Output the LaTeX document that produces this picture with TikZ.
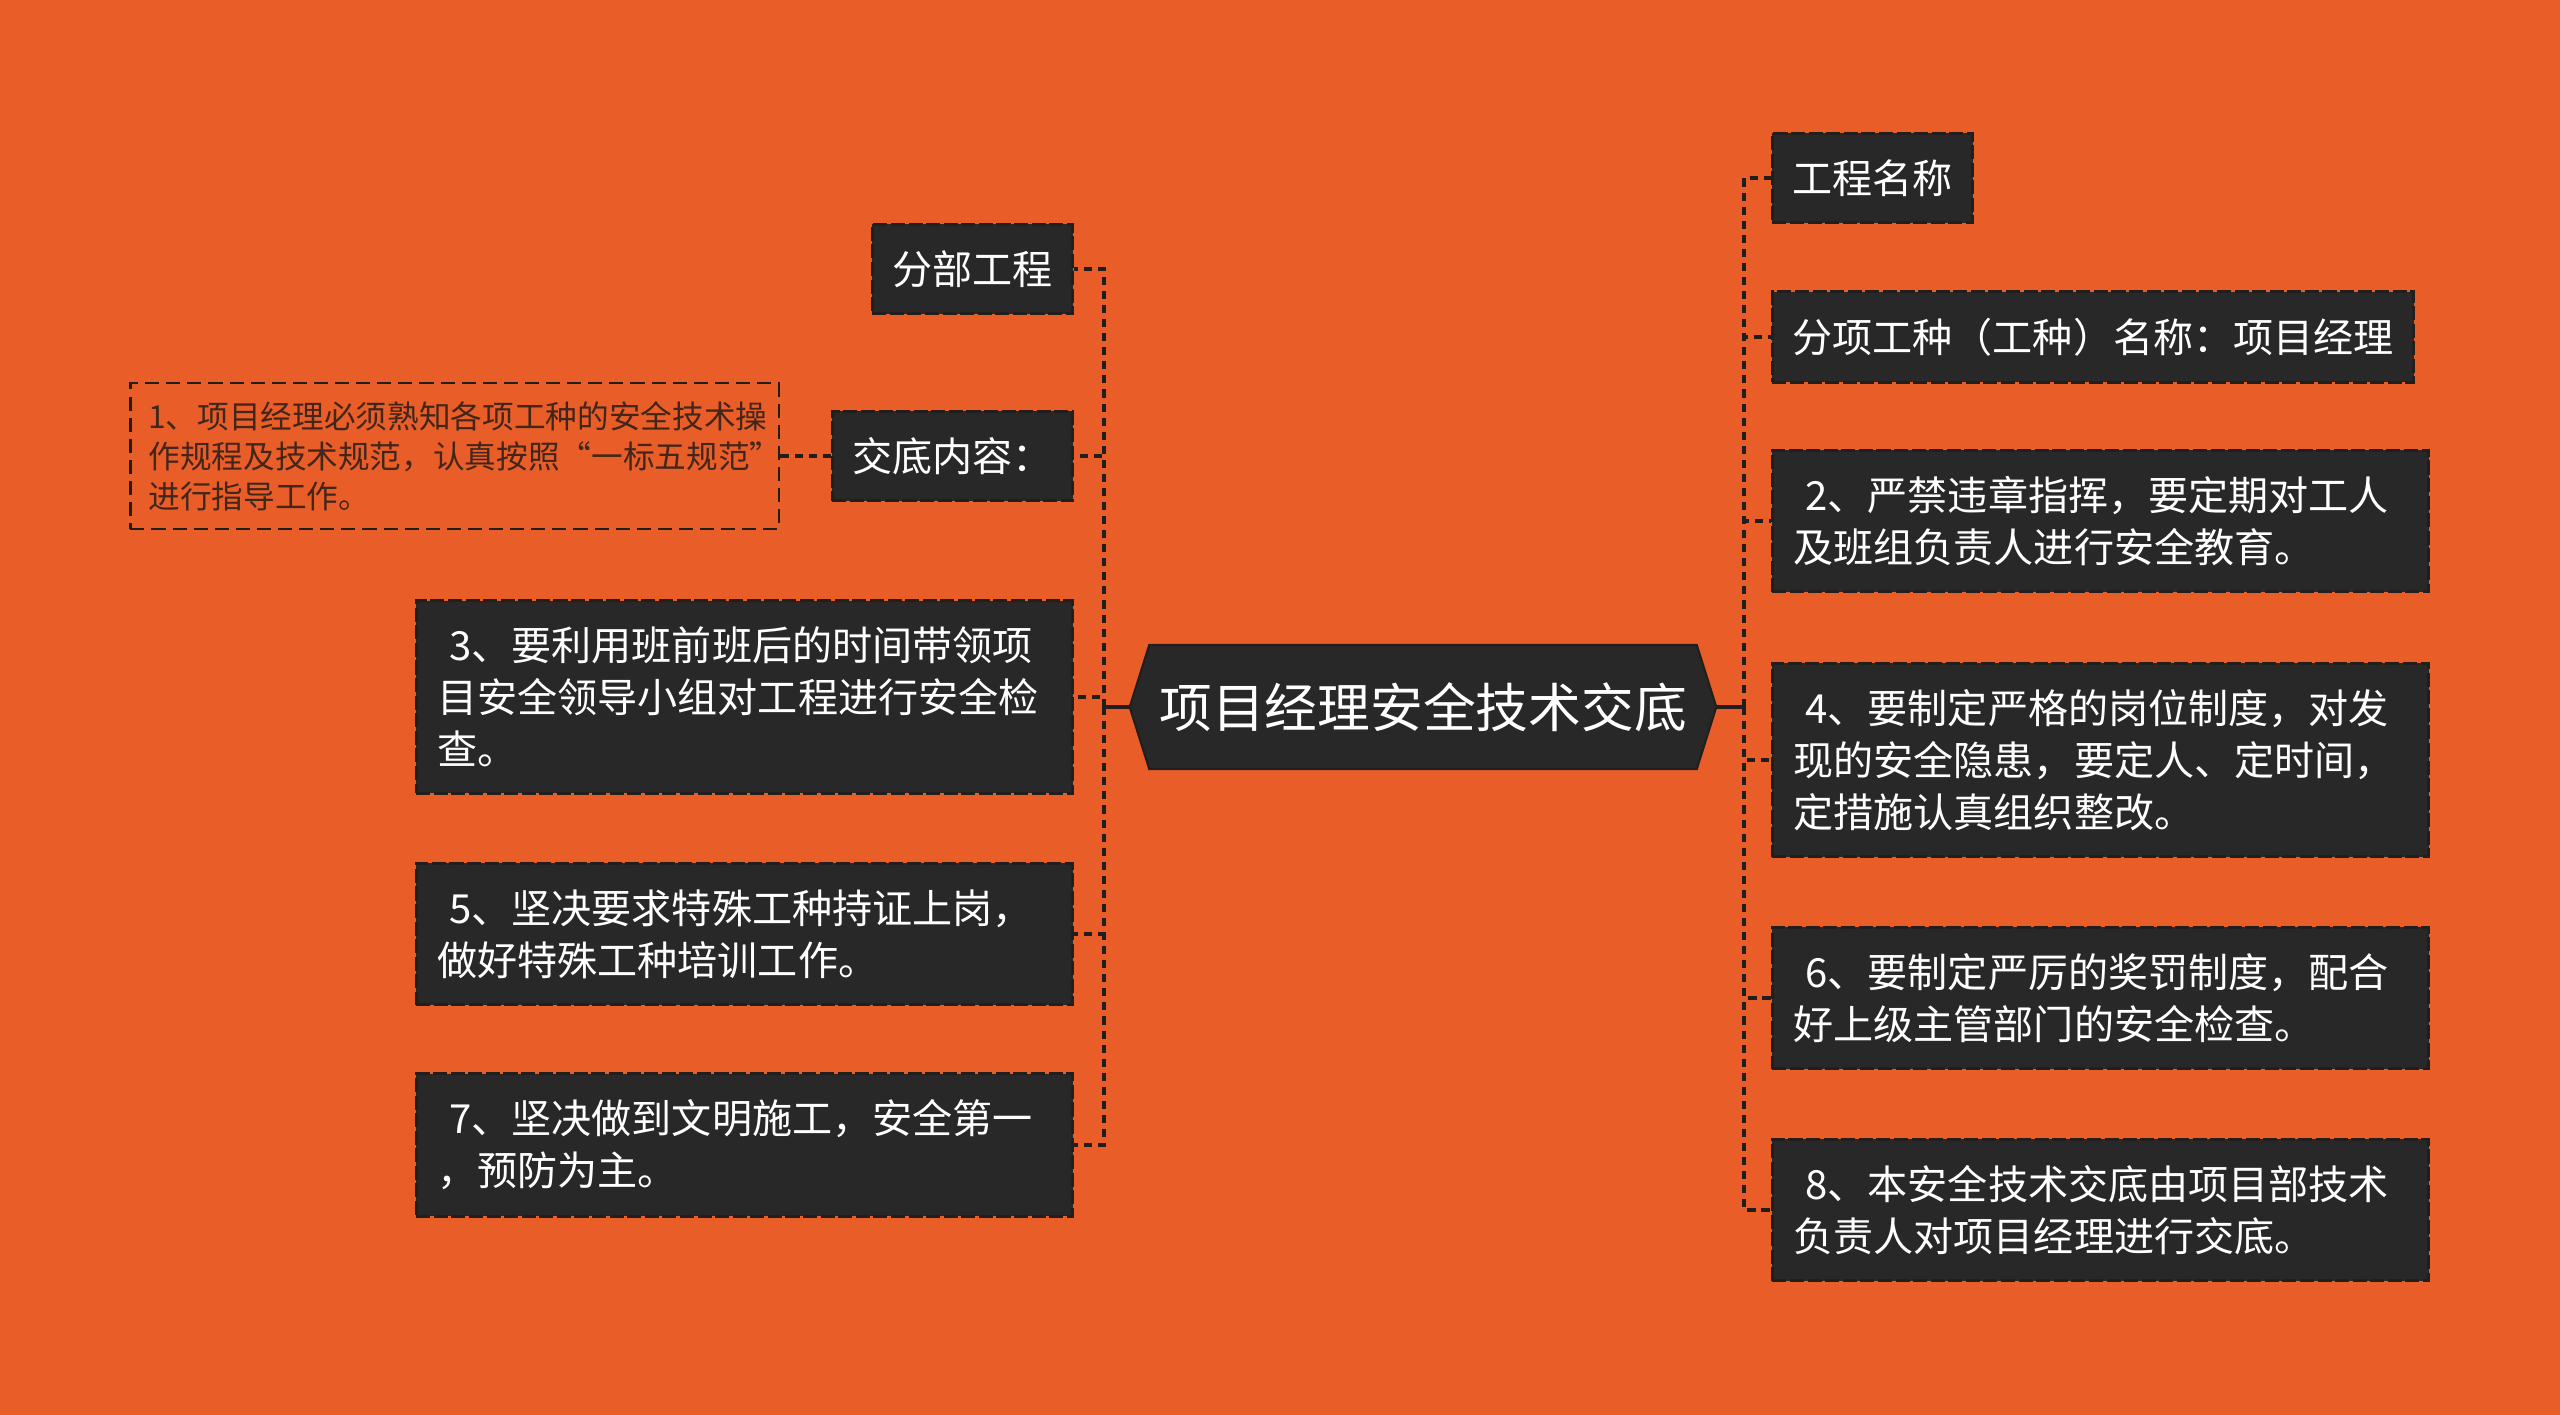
\documentclass[tikz,border=0pt]{standalone}
\usepackage{fontspec}
\setmainfont{Noto Sans CJK SC}
\usepackage{tikz}
\definecolor{bgorange}{RGB}{233, 93, 41}
\definecolor{boxgray}{RGB}{40, 40, 40}
\definecolor{lineblack}{RGB}{34, 30, 28}
\definecolor{notebrown}{RGB}{66, 38, 26}
\usetikzlibrary{shapes.symbols, positioning}

\begin{document}
\begin{tikzpicture}[
    x=0.01cm, y=-0.01cm,
    root/.style={signal, signal to=east and west, signal pointer angle=145, fill=boxgray, draw=lineblack, line width=0.6pt, minimum width=5.73cm, minimum height=1.24cm, inner xsep=0.1cm, text=white, font=\fontsize{15pt}{18pt}\selectfont},
    tag/.style={rectangle, fill=boxgray, draw=lineblack, dash pattern=on 4pt off 1pt, line width=0.8pt, inner xsep=0.2cm, inner ysep=0.26cm, text=white, font=\fontsize{11.4pt}{14.8pt}\selectfont},
    card/.style={tag, text width=6.14cm, inner xsep=0.21cm, align=left},
    note/.style={rectangle, draw=lineblack, dash pattern=on 4pt off 2pt, line width=0.7pt, text width=6.12cm, inner xsep=0.18cm, inner ysep=0.18cm, align=left, text=notebrown, font=\fontsize{9pt}{11.4pt}\selectfont},
    stub/.style={lineblack, line width=0.9pt},
    link/.style={lineblack, line width=0.9pt, dash pattern=on 2.3pt off 1.7pt}
]
    % background and page size
    \fill[bgorange] (0,0) rectangle (2560,1415);

    \node[root] (root) at (1423,707) {项目经理安全技术交底};
    \coordinate (lj) at (1104,707);
    \coordinate (rj) at (1744,707);

    % left side
    \node[tag, anchor=east] (fenbu) at (1074,269) {分部工程};
    \node[tag, anchor=east] (jiaodi) at (1074,456) {交底内容：};
    \node[note, anchor=east] (item1) at (780,456) {1、项目经理必须熟知各项工种的安全技术操\\作规程及技术规范，认真按照“一标五规范”\\进行指导工作。};
    \node[card, anchor=east] (item3) at (1074,697) {\hspace{0.12cm}3、要利用班前班后的时间带领项\\目安全领导小组对工程进行安全检\\查。};
    \node[card, anchor=east] (item5) at (1074,934) {\hspace{0.12cm}5、坚决要求特殊工种持证上岗，\\做好特殊工种培训工作。};
    \node[card, anchor=east] (item7) at (1074,1145) {\hspace{0.12cm}7、坚决做到文明施工，安全第一\\，预防为主。};

    % right side
    \node[tag, anchor=west] (gcmc) at (1771,178) {工程名称};
    \node[tag, anchor=west] (fxgz) at (1771,337) {分项工种（工种）名称：项目经理};
    \node[card, anchor=west] (item2) at (1771,521) {\hspace{0.12cm}2、严禁违章指挥，要定期对工人\\及班组负责人进行安全教育。};
    \node[card, anchor=west] (item4) at (1771,760) {\hspace{0.12cm}4、要制定严格的岗位制度，对发\\现的安全隐患，要定人、定时间，\\定措施认真组织整改。};
    \node[card, anchor=west] (item6) at (1771,998) {\hspace{0.12cm}6、要制定严厉的奖罚制度，配合\\好上级主管部门的安全检查。};
    \node[card, anchor=west] (item8) at (1771,1210) {\hspace{0.12cm}8、本安全技术交底由项目部技术\\负责人对项目经理进行交底。};

    % connectors
    \draw[stub] (root.west) -- (lj);
    \draw[stub] (root.east) -- (rj);
    \foreach \n in {fenbu, jiaodi, item3, item5, item7}
        \draw[link] (lj) |- (\n.east);
    \foreach \n in {gcmc, fxgz, item2, item4, item6, item8}
        \draw[link] (rj) |- (\n.west);
    \draw[link] (jiaodi.west) -- (item1.east);
\end{tikzpicture}
\end{document}
